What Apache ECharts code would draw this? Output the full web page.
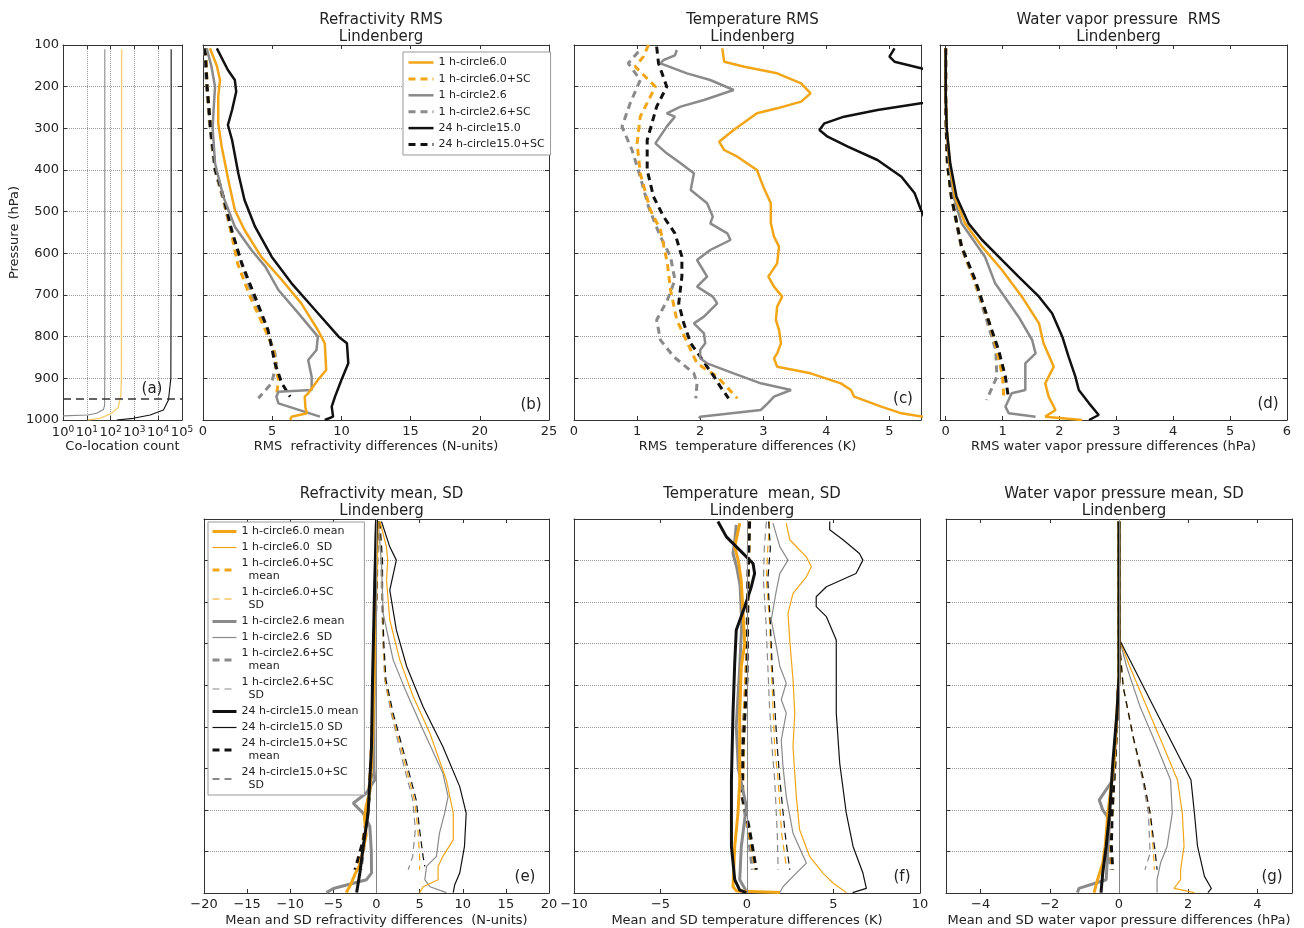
<!DOCTYPE html>
<html>
<head>
<meta charset="utf-8">
<script src="https://cdn.jsdelivr.net/npm/echarts@6/dist/echarts.min.js"></script>
<style>
html,body{margin:0;padding:0;background:#fff}
#chart{width:1304px;height:928px}
</style>
</head>
<body>
<div id="chart"></div>
<script>
// ---------- Profiles: [value, pressure hPa] ----------

// (a) co-location counts
const countGray   = [[57,110],[57,500],[57,900],[56,965],[50,975],[26,984],[11,988],[1,990]];
const countOrange = [[290,110],[290,500],[285,900],[270,940],[210,970],[110,984],[35,996],[11,1000]];
const countBlack  = [[35000,110],[35000,600],[34000,900],[27000,952],[16600,976],[4600,988],[900,996],[180,1000]];

// (b) RMS refractivity (N-units)
const rmsN_1h6    = [[0.5,108],[1.0,150],[1.23,184],[1.1,224],[1.1,288],[1.35,344],[1.83,424],[2.3,496],[3.0,544],[4.2,608],[5.7,664],[7.1,720],[8.3,784],[8.8,816],[8.9,880],[8.3,904],[7.6,936],[7.35,944],[7.4,970],[7.5,984],[6.4,992],[6.3,1000]];
const rmsN_1h6sc  = [[0.2,108],[0.3,200],[0.55,300],[0.9,400],[1.45,464],[2.0,544],[2.5,624],[3.4,704],[4.5,784],[5.1,830],[5.3,880],[5.45,904],[5.3,944]];
const rmsN_1h26   = [[0.27,108],[0.6,150],[0.87,200],[0.75,264],[0.7,300],[0.87,384],[1.47,464],[2.3,536],[3.5,592],[4.5,632],[5.45,688],[6.9,744],[8.3,800],[8.2,832],[7.6,856],[7.85,896],[7.85,928],[5.45,932],[5.3,944],[5.45,960],[8.45,992]];
const rmsN_1h26sc = [[0.1,108],[0.25,200],[0.5,300],[0.85,400],[1.4,464],[2.0,544],[2.8,624],[3.6,704],[4.6,784],[5.2,840],[5.3,864],[4.96,912],[4.0,948]];
const rmsN_24h15  = [[1.0,108],[1.8,160],[2.3,184],[2.4,212],[2.1,256],[1.8,292],[2.1,328],[2.55,408],[3.0,472],[3.76,536],[4.96,608],[6.4,672],[8.1,736],[9.8,800],[10.4,816],[10.5,864],[10.0,904],[9.54,944],[9.3,968],[9.4,992],[8.8,1000]];
const rmsN_24h15sc= [[0.15,108],[0.3,200],[0.55,300],[0.9,400],[1.47,464],[2.07,544],[2.8,624],[3.76,704],[4.7,784],[5.2,864],[5.7,912],[6.3,944]];

// (c) RMS temperature (K)
const rmsT_1h6    = [[2.35,108],[2.38,140],[2.7,152],[3.22,168],[3.6,192],[3.75,216],[3.6,236],[3.22,252],[2.9,264],[2.53,304],[2.3,332],[2.38,352],[2.59,368],[2.9,400],[3.0,440],[3.12,480],[3.12,528],[3.17,560],[3.25,584],[3.22,624],[3.08,656],[3.17,680],[3.3,704],[3.22,728],[3.2,760],[3.25,784],[3.28,816],[3.22,840],[3.17,852],[3.22,872],[3.75,888],[4.23,912],[4.39,928],[4.44,944],[4.87,968],[5.19,984],[5.6,994]];
const rmsT_1h6sc  = [[1.18,100],[1.1,128],[0.97,152],[1.29,200],[1.05,272],[1.0,336],[1.05,408],[1.21,496],[1.37,544],[1.48,624],[1.53,688],[1.63,760],[1.85,832],[1.95,864],[2.27,896],[2.59,948]];
const rmsT_1h26   = [[1.63,112],[1.6,125],[1.42,136],[1.37,144],[1.79,168],[2.16,184],[2.53,208],[2.06,232],[1.69,248],[1.47,264],[1.6,272],[1.47,296],[1.29,336],[1.47,360],[1.69,384],[1.9,408],[1.85,448],[2.11,480],[2.2,512],[2.16,528],[2.43,552],[2.48,568],[2.16,592],[1.95,616],[2.11,656],[1.95,680],[2.2,704],[2.27,720],[2.06,752],[1.9,768],[2.06,792],[2.08,816],[2.0,832],[2.0,852],[2.11,864],[2.53,888],[2.96,912],[3.44,928],[3.17,944],[3.07,960],[2.96,976],[2.0,992],[1.98,996]];
const rmsT_1h26sc = [[1.02,116],[0.86,144],[1.05,184],[0.89,240],[0.76,296],[0.92,352],[1.05,416],[1.18,488],[1.37,560],[1.53,608],[1.6,664],[1.48,712],[1.31,760],[1.37,808],[1.58,848],[1.9,888],[1.95,912],[1.93,948]];
const rmsT_24h15  = [[5.08,108],[5.0,128],[5.08,140],[5.5,156],[6.2,180],[7.0,200],[6.3,225],[5.5,240],[4.81,256],[4.28,272],[3.97,288],[3.89,304],[4.02,320],[4.34,344],[4.81,376],[5.19,416],[5.4,456],[5.5,496],[5.7,560],[5.8,650],[5.9,750],[6.1,850],[6.4,930],[6.9,990],[6.5,1000]];
const rmsT_24h15sc= [[1.31,104],[1.34,144],[1.47,200],[1.31,248],[1.16,328],[1.16,400],[1.26,464],[1.42,512],[1.6,552],[1.71,608],[1.71,656],[1.66,720],[1.74,768],[1.85,816],[2.0,848],[2.22,896],[2.32,920],[2.45,948]];

// (d) RMS water vapour pressure (hPa)
const rmsE_1h6    = [[0,108],[0,224],[0.02,304],[0.07,384],[0.16,464],[0.34,528],[0.64,584],[0.99,640],[1.34,704],[1.64,768],[1.72,816],[1.9,872],[1.75,912],[1.81,944],[1.93,976],[1.75,992],[2.4,1000]];
const rmsE_1h6sc  = [[0,108],[0,224],[0.01,304],[0.03,384],[0.1,464],[0.28,584],[0.5,664],[0.75,760],[0.9,832],[1.0,896],[1.02,944]];
const rmsE_1h26   = [[0,108],[0,224],[0.02,304],[0.06,384],[0.14,464],[0.28,528],[0.69,608],[0.87,672],[1.28,752],[1.52,808],[1.58,840],[1.4,864],[1.4,928],[1.16,936],[1.05,968],[1.11,984],[1.58,992]];
const rmsE_1h26sc = [[0,108],[0,224],[0.01,304],[0.03,384],[0.1,464],[0.27,584],[0.5,664],[0.72,760],[0.88,832],[0.9,896],[0.72,952]];
const rmsE_24h15  = [[0,108],[0,224],[0.02,304],[0.08,384],[0.19,464],[0.4,528],[0.64,568],[0.93,608],[1.28,656],[1.64,704],[1.87,744],[2.05,800],[2.16,848],[2.28,896],[2.34,928],[2.52,960],[2.69,988],[2.52,1000]];
const rmsE_24h15sc= [[0,108],[0,224],[0.01,304],[0.03,384],[0.1,464],[0.28,584],[0.52,664],[0.75,760],[0.93,832],[1.05,896],[1.1,944]];

// (e) refractivity mean and SD (N-units)
const meanN_1h6    = [[0.1,106],[0,200],[-0.1,300],[-0.2,400],[-0.3,500],[-0.4,600],[-0.6,700],[-0.8,760],[-1.2,790],[-1.4,820],[-1.2,860],[-1.6,900],[-1.9,930],[-2.5,955],[-3.0,980],[-3.5,999]];
const sdN_1h6      = [[0.4,106],[1.16,167],[1.3,200],[1.16,247],[1.54,343],[2.7,439],[4.25,527],[6.2,616],[8.1,728],[8.9,808],[8.9,872],[7.7,912],[7.14,936],[7.14,968],[5.4,985],[5.0,999]];
const meanN_1h6sc  = [[0.05,106],[-0.05,200],[-0.1,300],[-0.25,400],[-0.35,500],[-0.5,600],[-0.7,700],[-1.0,780],[-1.3,840],[-1.8,900],[-2.4,944]];
const sdN_1h6sc    = [[0.3,106],[0.6,200],[0.7,300],[0.8,400],[1.0,487],[1.8,567],[3.3,688],[4.4,776],[4.8,848],[5.0,912],[5.0,944]];
const meanN_1h26   = [[0,106],[-0.1,200],[-0.15,300],[-0.2,400],[-0.25,500],[-0.3,600],[-0.3,700],[-0.2,728],[-1.2,760],[-2.7,784],[-1.54,808],[-0.77,840],[-0.6,900],[-0.58,952],[-1.16,968],[-5.0,989],[-5.8,999]];
const sdN_1h26     = [[0.2,106],[0.58,207],[0.77,327],[1.93,439],[3.5,519],[5.4,608],[7.7,712],[8.3,768],[7.9,808],[7.3,856],[6.95,912],[5.8,936],[5.6,968],[6.2,985],[8.1,999]];
const meanN_1h26sc = [[0,106],[-0.05,200],[-0.1,300],[-0.2,400],[-0.3,500],[-0.4,600],[-0.5,700],[-0.9,780],[-1.2,840],[-1.5,900],[-1.8,944]];
const sdN_1h26sc   = [[0.3,106],[0.5,200],[0.6,300],[0.75,400],[0.95,487],[1.7,567],[3.1,688],[4.2,776],[4.5,848],[4.2,912],[3.67,944]];
const meanN_24h15  = [[0,102],[-0.2,247],[-0.46,487],[-0.58,648],[-0.97,808],[-1.54,888],[-1.93,952],[-2.3,999]];
const sdN_24h15    = [[0.58,106],[1.54,167],[2.3,199],[1.54,271],[2.3,367],[3.5,455],[5.4,552],[7.7,648],[9.65,744],[10.4,808],[10.2,888],[9.65,952],[9.07,980],[8.9,999]];
const meanN_24h15sc= [[0.1,106],[0,250],[-0.2,400],[-0.4,550],[-0.6,700],[-1.0,800],[-1.5,870],[-2.5,944]];
const sdN_24h15sc  = [[0.4,106],[0.7,200],[0.7,300],[0.85,400],[1.1,487],[1.93,567],[3.5,688],[4.6,776],[5.0,848],[5.4,912],[5.6,936]];

// (f) temperature mean and SD (K)
const meanT_1h6    = [[-0.42,110],[-0.71,167],[-0.5,200],[-0.33,250],[-0.13,400],[-0.33,455],[-0.42,567],[-0.42,728],[-0.52,808],[-0.71,888],[-0.81,985],[-0.6,995],[1.9,999]];
const sdT_1h6      = [[2.27,110],[2.47,150],[3.43,191],[3.72,215],[3.43,239],[2.66,279],[2.37,327],[2.47,391],[2.66,487],[2.76,567],[2.66,648],[2.85,768],[3.04,848],[3.62,912],[4.39,952],[4.97,976],[5.74,999]];
const meanT_1h6sc  = [[0.15,106],[0.1,200],[0.05,300],[0,400],[-0.1,500],[-0.2,650],[-0.25,768],[0.1,848],[0.5,944]];
const sdT_1h6sc    = [[1.31,106],[1.2,170],[1.12,247],[1.31,350],[1.4,450],[1.5,550],[1.6,650],[1.8,728],[2.0,856],[2.27,936]];
const meanT_1h26   = [[-0.62,114],[-0.7,150],[-0.81,183],[-0.6,215],[-0.4,260],[-0.3,350],[-0.42,455],[-0.62,600],[-0.5,700],[-0.04,792],[-0.33,888],[-0.42,968],[0,999]];
const sdT_1h26     = [[1.5,110],[1.9,167],[2.37,199],[1.9,231],[1.7,271],[1.4,343],[1.7,407],[1.9,455],[2.27,495],[1.98,535],[2.27,567],[1.98,632],[2.08,696],[2.27,768],[2.66,856],[3.43,928],[2.66,960],[2.08,985],[1.9,999]];
const meanT_1h26sc = [[0.1,106],[0.05,247],[-0.05,487],[-0.3,648],[-0.3,768],[0.05,848],[0.3,944]];
const sdT_1h26sc   = [[1.12,106],[1.0,170],[0.95,247],[1.1,350],[1.2,450],[1.3,550],[1.45,650],[1.6,728],[1.75,856],[1.8,944]];
const meanT_24h15  = [[-1.68,106],[-1.19,143],[-0.42,175],[0.35,207],[0.44,231],[0.25,263],[-0.13,311],[-0.62,367],[-0.71,447],[-0.81,567],[-0.9,728],[-0.9,888],[-0.71,968],[-0.42,993],[-0.04,999]];
const sdT_24h15    = [[4.78,106],[4.78,126],[5.55,150],[6.5,183],[6.7,199],[6.3,231],[4.59,263],[4.0,287],[4.0,311],[4.59,335],[5.16,391],[5.16,455],[5.16,567],[5.36,688],[5.74,808],[6.13,888],[6.7,952],[6.9,989],[6.1,999]];
const meanT_24h15sc= [[0.15,106],[0.06,247],[0,487],[-0.23,648],[-0.27,768],[0.15,848],[0.54,944]];
const sdT_24h15sc  = [[1.25,106],[1.35,170],[1.2,247],[1.35,350],[1.45,450],[1.6,550],[1.75,650],[1.9,728],[2.2,856],[2.47,944]];

// (g) water vapour pressure mean and SD (hPa)
const meanE_1h6    = [[0,106],[0,480],[-0.06,567],[-0.15,688],[-0.32,808],[-0.4,888],[-0.47,928],[-0.62,968],[-0.72,999]];
const sdE_1h6      = [[0,106],[0,300],[0.02,391],[0.31,455],[0.8,552],[1.29,648],[1.69,728],[1.83,808],[1.88,888],[1.78,944],[1.78,968],[1.59,989],[2.18,999]];
const meanE_1h6sc  = [[0,106],[0,480],[-0.05,567],[-0.12,688],[-0.2,808],[-0.25,888],[-0.2,944]];
const sdE_1h6sc    = [[0,106],[0,300],[0.01,391],[0.12,503],[0.41,624],[0.71,728],[0.9,808],[1.0,904],[1.02,944]];
const meanE_1h26   = [[0,106],[0,480],[-0.05,567],[-0.18,728],[-0.57,776],[-0.47,800],[-0.27,824],[-0.32,888],[-0.37,968],[-1.16,989],[-1.2,999]];
const sdE_1h26     = [[0,106],[0,300],[0.02,391],[0.22,455],[0.61,552],[1.1,648],[1.49,728],[1.54,808],[1.39,888],[1.2,928],[1.1,968],[1.1,999]];
const meanE_1h26sc = [[0,106],[0,480],[-0.05,567],[-0.12,688],[-0.22,808],[-0.3,888],[-0.25,944]];
const sdE_1h26sc   = [[0,106],[0,300],[0.01,391],[0.12,503],[0.4,624],[0.68,728],[0.85,808],[0.9,904],[0.75,944]];
const meanE_24h15  = [[0,106],[0,480],[-0.06,567],[-0.18,688],[-0.27,808],[-0.37,888],[-0.47,952],[-0.52,999]];
const sdE_24h15    = [[0,106],[0,300],[0.02,391],[0.41,455],[1.0,552],[1.59,648],[2.08,728],[2.18,808],[2.27,888],[2.47,960],[2.67,989],[2.57,999]];
const meanE_24h15sc= [[0,106],[0,480],[-0.05,567],[-0.12,688],[-0.2,808],[-0.22,888],[-0.18,944]];
const sdE_24h15sc  = [[0,106],[0,300],[0.01,391],[0.12,503],[0.41,624],[0.71,728],[0.9,808],[1.05,904],[1.1,944]];

// ---------- Axis ticks and labels ----------
const pressureTicks = [100,200,300,400,500,600,700,800,900,1000];
const countTicks    = [1,10,100,1000,10000,100000];
const refrRmsTicks  = [0,5,10,15,20,25];
const tempRmsTicks  = [0,1,2,3,4,5];
const vapRmsTicks   = [0,1,2,3,4,5,6];
const refrMeanTicks = [-20,-15,-10,-5,0,5,10,15,20];
const tempMeanTicks = [-10,-5,0,5,10];
const vapMeanTicks  = [-4,-2,0,2,4];

const panelTitles = ['', 'Refractivity RMS\nLindenberg', 'Temperature RMS\nLindenberg',
  'Water vapor pressure  RMS\nLindenberg', 'Refractivity mean, SD\nLindenberg',
  'Temperature  mean, SD\nLindenberg', 'Water vapor pressure mean, SD\nLindenberg'];
const xNames = ['Co-location count', 'RMS  refractivity differences (N-units)',
  'RMS  temperature differences (K)', 'RMS water vapor pressure differences (hPa)',
  'Mean and SD refractivity differences  (N-units)', 'Mean and SD temperature differences (K)',
  'Mean and SD water vapor pressure differences (hPa)'];
const panelTags = ['(a)','(b)','(c)','(d)','(e)','(f)','(g)'];

const upperLegend = ['1 h-circle6.0','1 h-circle6.0+SC','1 h-circle2.6','1 h-circle2.6+SC','24 h-circle15.0','24 h-circle15.0+SC'];
const lowerLegend = ['1 h-circle6.0 mean','1 h-circle6.0  SD','1 h-circle6.0+SC mean','1 h-circle6.0+SC SD',
  '1 h-circle2.6 mean','1 h-circle2.6  SD','1 h-circle2.6+SC mean','1 h-circle2.6+SC SD',
  '24 h-circle15.0 mean','24 h-circle15.0 SD','24 h-circle15.0+SC mean','24 h-circle15.0+SC SD'];

// ---------- Layout and style ----------
const FONT = 'DejaVu Sans';
const TXT = '#222';
const AX = '#333';
const ORANGE = '#F2A516';
const PALE_ORANGE = '#F5CF72';
const GRAY = '#8A8A8A';
const BLACK = '#111111';
const DASH = [7, 5];

const grids = [
  {left: 63,  top: 45,  width: 119, height: 375},
  {left: 203, top: 45,  width: 346, height: 375},
  {left: 574, top: 45,  width: 347, height: 375},
  {left: 940, top: 45,  width: 347, height: 375},
  {left: 204, top: 519, width: 345, height: 374},
  {left: 574, top: 519, width: 346, height: 374},
  {left: 946, top: 519, width: 346, height: 374}
];
const xRanges = [
  {type: 'log', min: 1, max: 100000, ticks: countTicks},
  {min: 0, max: 25, ticks: refrRmsTicks},
  {min: 0, max: 5.5, ticks: tempRmsTicks},
  {min: -0.1, max: 6, ticks: vapRmsTicks},
  {min: -20, max: 20, ticks: refrMeanTicks},
  {min: -10, max: 10, ticks: tempMeanTicks},
  {min: -5, max: 5, ticks: vapMeanTicks}
];
const tagPos = [[152,389],[531,405],[903,399],[1268,404],[525,877],[902,877],[1272,877]];

const minus = v => (v < 0 ? '\u2212' + Math.abs(v) : String(v));

const xAxes = [];
const yAxes = [];
grids.forEach((g, i) => {
  const r = xRanges[i];
  const isLog = r.type === 'log';
  const base = {
    gridIndex: i, type: isLog ? 'log' : 'value', min: r.min, max: r.max,
    axisLine: {show: true, onZero: false, lineStyle: {color: AX, width: 1}},
    axisTick: {show: true, inside: true, length: 4, customValues: r.ticks, lineStyle: {color: AX}},
    splitLine: {show: false}
  };
  if (isLog) base.logBase = 10;
  xAxes.push(Object.assign({}, base, {
    position: 'bottom',
    name: xNames[i], nameLocation: 'middle', nameGap: i >= 4 ? 21 : 20,
    nameTextStyle: {fontFamily: FONT, fontSize: 13, color: TXT},
    axisLabel: isLog ? {
      show: true, customValues: r.ticks, margin: 5, fontFamily: FONT, fontSize: 13, color: TXT,
      formatter: v => '10{s|' + Math.round(Math.log10(v)) + '}',
      rich: {s: {fontFamily: FONT, fontSize: 9, color: TXT, padding: [0, 0, 7, 0]}}
    } : {
      show: true, customValues: r.ticks, margin: 5, fontFamily: FONT, fontSize: 13, color: TXT,
      formatter: minus
    },
    splitLine: isLog ? {show: true, lineStyle: {color: '#999', type: 'dotted', width: 1}} : {show: false}
  }));
  xAxes.push(Object.assign({}, base, {position: 'top', axisLabel: {show: false}}));

  const ybase = {
    gridIndex: i, type: 'value', min: 100, max: 1000, interval: 100, inverse: true,
    axisLine: {show: true, onZero: false, lineStyle: {color: AX, width: 1}},
    axisTick: {show: true, inside: true, length: 4, lineStyle: {color: AX}}
  };
  yAxes.push(Object.assign({}, ybase, {
    position: 'left',
    name: i === 0 ? 'Pressure (hPa)' : '', nameLocation: 'middle', nameGap: 42, nameRotate: 90,
    nameTextStyle: {fontFamily: FONT, fontSize: 13, color: TXT},
    axisLabel: {show: i === 0, margin: 4, fontFamily: FONT, fontSize: 13, color: TXT,
      customValues: pressureTicks, formatter: v => String(v)},
    splitLine: {show: true, lineStyle: {color: '#999', type: 'dotted', width: 1}}
  }));
  yAxes.push(Object.assign({}, ybase, {position: 'right', axisLabel: {show: false}, splitLine: {show: false}}));
});

// each panel uses its bottom x axis (2*i) and left y axis (2*i)
function line(name, data, panel, color, width, dashed, extra) {
  return Object.assign({
    type: 'line', name: name, data: data,
    xAxisIndex: panel * 2, yAxisIndex: panel * 2,
    symbol: 'none', showSymbol: false, silent: true, clip: true,
    lineStyle: {color: color, width: width, type: dashed ? DASH : 'solid', cap: 'butt'},
    itemStyle: {color: color}
  }, extra || {});
}

const zeroLine = {
  silent: true, symbol: 'none', label: {show: false}, animation: false,
  lineStyle: {color: '#888', width: 1, type: 'solid'},
  data: [{xAxis: 0}]
};

const series = [
  // (a)
  line('count 1 h-circle2.6', countGray, 0, GRAY, 1.1, false),
  line('count 1 h-circle6.0', countOrange, 0, PALE_ORANGE, 1.4, false),
  line('count 24 h-circle15.0', countBlack, 0, BLACK, 1.1, false, {
    markLine: {silent: true, symbol: 'none', label: {show: false}, animation: false,
      lineStyle: {color: '#333', width: 1.5, type: [8, 5]}, data: [{yAxis: 950}]}
  }),
  // (b)
  line('1 h-circle2.6+SC', rmsN_1h26sc, 1, GRAY, 3, true),
  line('1 h-circle6.0+SC', rmsN_1h6sc, 1, ORANGE, 3, true),
  line('24 h-circle15.0+SC', rmsN_24h15sc, 1, BLACK, 3, true),
  line('1 h-circle2.6', rmsN_1h26, 1, GRAY, 2.5, false),
  line('1 h-circle6.0', rmsN_1h6, 1, ORANGE, 2.5, false),
  line('24 h-circle15.0', rmsN_24h15, 1, BLACK, 2.5, false),
  // (c)
  line('1 h-circle2.6+SC', rmsT_1h26sc, 2, GRAY, 3, true),
  line('1 h-circle6.0+SC', rmsT_1h6sc, 2, ORANGE, 3, true),
  line('24 h-circle15.0+SC', rmsT_24h15sc, 2, BLACK, 3, true),
  line('1 h-circle2.6', rmsT_1h26, 2, GRAY, 2.5, false),
  line('1 h-circle6.0', rmsT_1h6, 2, ORANGE, 2.5, false),
  line('24 h-circle15.0', rmsT_24h15, 2, BLACK, 2.5, false),
  // (d)
  line('1 h-circle2.6+SC', rmsE_1h26sc, 3, GRAY, 3, true),
  line('1 h-circle6.0+SC', rmsE_1h6sc, 3, ORANGE, 3, true),
  line('24 h-circle15.0+SC', rmsE_24h15sc, 3, BLACK, 3, true),
  line('1 h-circle2.6', rmsE_1h26, 3, GRAY, 2.5, false),
  line('1 h-circle6.0', rmsE_1h6, 3, ORANGE, 2.5, false),
  line('24 h-circle15.0', rmsE_24h15, 3, BLACK, 2.5, false)
];

// mean/SD panels share one drawing order
const lowerSets = [
  [4, [sdN_1h26sc, sdN_1h6sc, sdN_24h15sc, sdN_1h26, sdN_1h6, sdN_24h15, meanN_1h26sc, meanN_1h6sc, meanN_24h15sc, meanN_1h26, meanN_1h6, meanN_24h15]],
  [5, [sdT_1h26sc, sdT_1h6sc, sdT_24h15sc, sdT_1h26, sdT_1h6, sdT_24h15, meanT_1h26sc, meanT_1h6sc, meanT_24h15sc, meanT_1h26, meanT_1h6, meanT_24h15]],
  [6, [sdE_1h26sc, sdE_1h6sc, sdE_24h15sc, sdE_1h26, sdE_1h6, sdE_24h15, meanE_1h26sc, meanE_1h6sc, meanE_24h15sc, meanE_1h26, meanE_1h6, meanE_24h15]]
];
const lowerStyles = [
  ['1 h-circle2.6+SC SD', GRAY, 1.2, true],
  ['1 h-circle6.0+SC SD', ORANGE, 1.2, true],
  ['24 h-circle15.0+SC SD', BLACK, 1.2, true],
  ['1 h-circle2.6  SD', GRAY, 1.2, false],
  ['1 h-circle6.0  SD', ORANGE, 1.2, false],
  ['24 h-circle15.0 SD', BLACK, 1.2, false],
  ['1 h-circle2.6+SC mean', GRAY, 3, true],
  ['1 h-circle6.0+SC mean', ORANGE, 3, true],
  ['24 h-circle15.0+SC mean', BLACK, 3, true],
  ['1 h-circle2.6 mean', GRAY, 3, false],
  ['1 h-circle6.0 mean', ORANGE, 3, false],
  ['24 h-circle15.0 mean', BLACK, 3, false]
];
lowerSets.forEach(([panel, arrays]) => {
  arrays.forEach((arr, k) => {
    const st = lowerStyles[k];
    series.push(line(st[0], arr, panel, st[1], st[2], st[3], k === 0 ? {markLine: zeroLine} : null));
  });
});

const titles = panelTitles.map((t, i) => ({
  show: !!t, text: t,
  left: grids[i].left + grids[i].width / 2, top: grids[i].top - 38, textAlign: 'center',
  textStyle: {fontFamily: FONT, fontSize: 15, fontWeight: 'normal', color: TXT, lineHeight: 17}
}));

const legendCommon = {
  orient: 'vertical', selectedMode: false,
  backgroundColor: '#fff', borderColor: '#999', borderWidth: 1, borderRadius: 0,
  textStyle: {fontFamily: FONT, fontSize: 11, color: TXT, lineHeight: 13},
  itemStyle: {opacity: 0, color: 'transparent', borderWidth: 0},
  lineStyle: {width: 'inherit', type: 'inherit', color: 'inherit'}
};

const option = {
  animation: false,
  backgroundColor: '#fff',
  title: titles,
  grid: grids.map(g => Object.assign({outerBoundsMode: 'none', containLabel: false}, g)),
  xAxis: xAxes,
  yAxis: yAxes,
  legend: [
    Object.assign({}, legendCommon, {
      data: upperLegend, left: 403, top: 52, padding: [4, 6, 4, 4],
      itemWidth: 25, itemHeight: 10, itemGap: 3.4
    }),
    Object.assign({}, legendCommon, {
      data: lowerLegend, left: 208, top: 522, padding: [3, 6, 3, 3],
      itemWidth: 24, itemHeight: 10, itemGap: 3,
      formatter: n => n.replace('+SC ', '+SC\n  ')
    })
  ],
  graphic: panelTags.map((t, i) => ({
    type: 'text', x: tagPos[i][0], y: tagPos[i][1], silent: true, z: 10,
    style: {text: t, font: '15px "' + FONT + '"', fill: TXT, align: 'center', verticalAlign: 'middle'}
  })),
  series: series
};

const chart = echarts.init(document.getElementById('chart'), null, {renderer: 'canvas'});
chart.setOption(option);
</script>
</body>
</html>
